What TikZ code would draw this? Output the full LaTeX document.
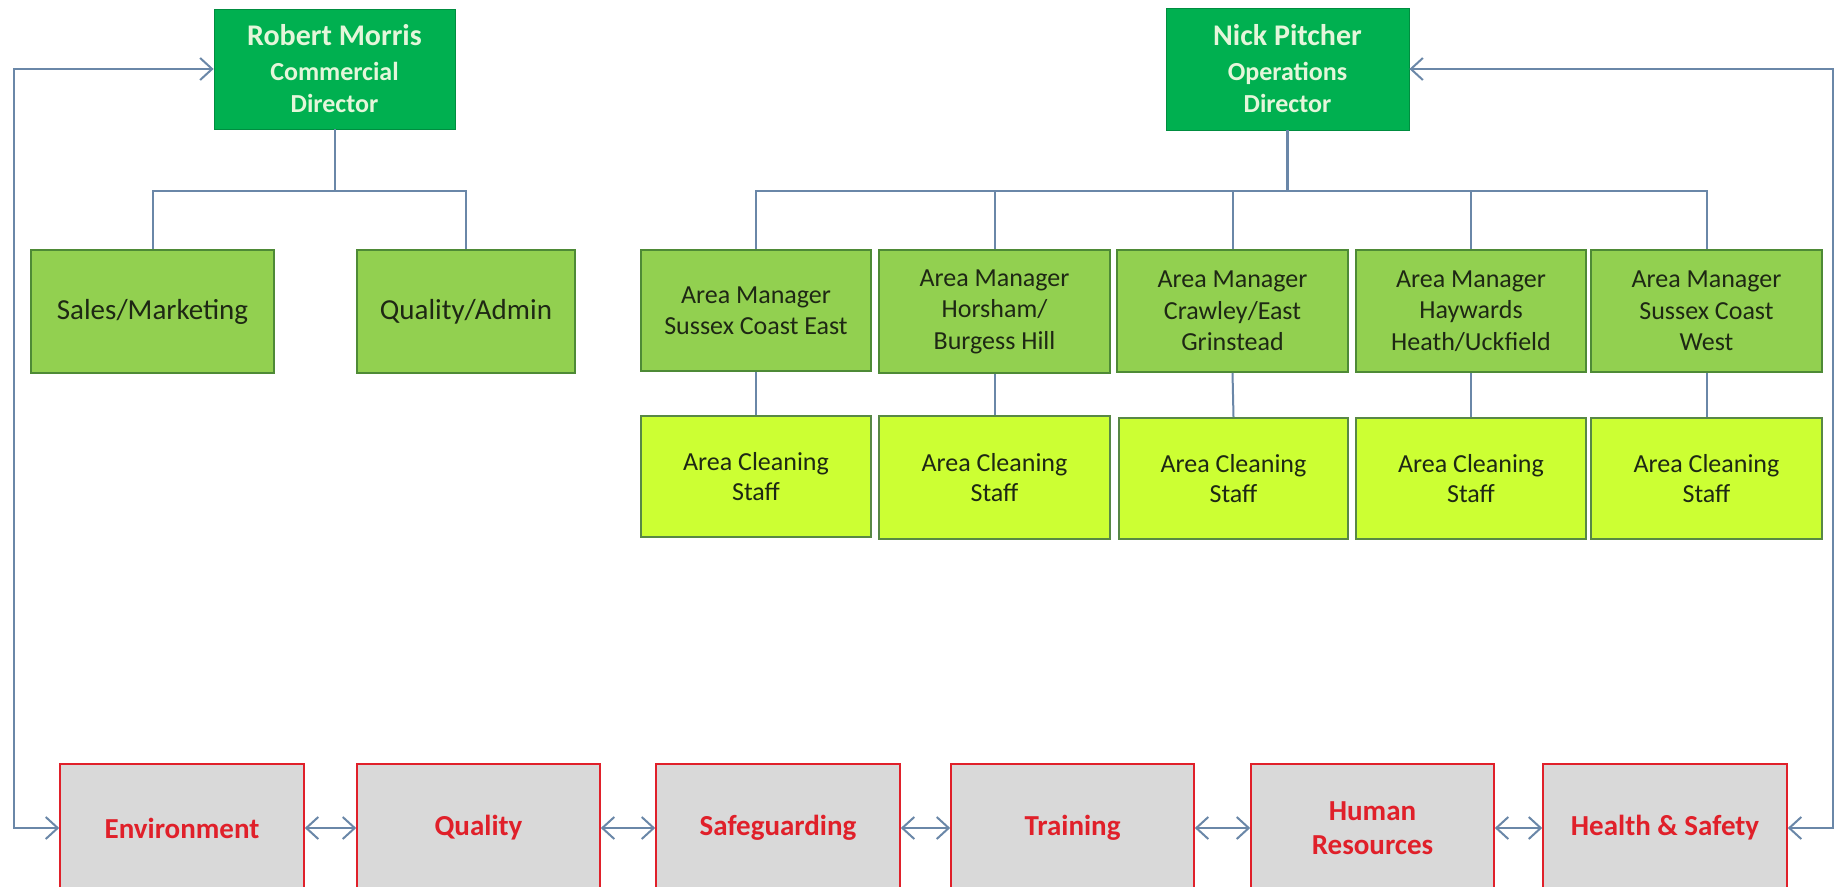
\documentclass[tikz,border=0pt]{standalone}
\usepackage{fontspec}
\setmainfont{Carlito}
\usetikzlibrary{arrows.meta}
\definecolor{dkgreen}{HTML}{00B050}
\definecolor{mdgreen}{HTML}{92D050}
\definecolor{ylgreen}{HTML}{CCFF33}
\definecolor{boxgray}{HTML}{D9D9D9}
\definecolor{redtxt}{HTML}{E0202A}
\definecolor{conncol}{HTML}{6A87A8}
\definecolor{lighttxt}{HTML}{E4F6DA}
\definecolor{darktxt}{HTML}{1E2814}
\definecolor{grborder}{HTML}{4E8A36}
\tikzset{
  base/.style={rectangle, inner sep=0pt, align=center},
  dkbox/.style={base, fill=dkgreen, draw=dkgreen!80!black, line width=0.8pt, text=lighttxt,
    font=\fontsize{26}{32}\selectfont\bfseries},
  mdbox/.style={base, fill=mdgreen, draw=grborder, line width=1.6pt, text=darktxt,
    font=\fontsize{26}{31.5}\selectfont},
  bigmd/.style={mdbox, font=\fontsize{29}{34}\selectfont},
  ylbox/.style={base, fill=ylgreen, draw=grborder!80!gray, line width=1.6pt, text=darktxt,
    font=\fontsize{26}{30}\selectfont},
  rdbox/.style={base, fill=boxgray, draw=redtxt, line width=1.6pt, text=redtxt,
    font=\fontsize{29}{34}\selectfont\bfseries, minimum height=128pt},
  conn/.style={draw=conncol, line width=2pt},
  tip/.style={-{Straight Barb[length=12pt,width=22pt]}},
  tips/.style={{Straight Barb[length=12pt,width=22pt]}-{Straight Barb[length=12pt,width=22pt]}}
}
\begin{document}
\begin{tikzpicture}[x=1pt,y=-1pt]
\useasboundingbox (0,0) rectangle (1836,886);
\fill[white] (0,0) rectangle (1836,886);
\clip (0,0) rectangle (1836,886);

% directors
\node[dkbox, minimum width=241pt, minimum height=120pt] (rm) at (334.5,69)
  {{\fontsize{30}{36}\selectfont Robert Morris}\\[3pt]Commercial\\Director};
\node[dkbox, minimum width=243pt, minimum height=122pt] (np) at (1287.5,69)
  {{\fontsize{30}{36}\selectfont Nick Pitcher}\\[3pt]Operations\\Director};

% commercial side
\node[bigmd, minimum width=243pt, minimum height=123pt] (sm) at (152.5,311.5) {Sales/Marketing};
\node[bigmd, minimum width=218pt, minimum height=123pt] (qa) at (466,311.5) {Quality/Admin};

% area managers
\node[mdbox, minimum width=230pt, minimum height=121pt] (am1) at (756,310.5) {Area Manager\\Sussex Coast East};
\node[mdbox, minimum width=231pt, minimum height=123pt] (am2) at (994.5,311.5) {Area Manager\\Horsham/\\Burgess Hill};
\node[mdbox, minimum width=231pt, minimum height=122pt] (am3) at (1232.5,311) {Area Manager\\Crawley/East\\Grinstead};
\node[mdbox, minimum width=230pt, minimum height=122pt] (am4) at (1471,311) {Area Manager\\Haywards\\Heath/Uckfield};
\node[mdbox, minimum width=231pt, minimum height=122pt] (am5) at (1706.5,311) {Area Manager\\Sussex Coast\\West};

% cleaning staff
\node[ylbox, minimum width=230pt, minimum height=121pt] (cs1) at (756,476.5) {Area Cleaning\\Staff};
\node[ylbox, minimum width=231pt, minimum height=123pt] (cs2) at (994.5,477.5) {Area Cleaning\\Staff};
\node[ylbox, minimum width=229pt, minimum height=121pt] (cs3) at (1233.5,478.5) {Area Cleaning\\Staff};
\node[ylbox, minimum width=230pt, minimum height=121pt] (cs4) at (1471,478.5) {Area Cleaning\\Staff};
\node[ylbox, minimum width=231pt, minimum height=121pt] (cs5) at (1706.5,478.5) {Area Cleaning\\Staff};

% bottom row
\node[rdbox, minimum width=244pt] (env) at (182,828) {Environment};
\node[rdbox, minimum width=243pt] (qual) at (478.5,828) {Quality};
\node[rdbox, minimum width=244pt] (safe) at (778,828) {Safeguarding};
\node[rdbox, minimum width=243pt] (train) at (1072.5,828) {Training};
\node[rdbox, minimum width=243pt] (hr) at (1372.5,828) {Human\\Resources};
\node[rdbox, minimum width=244pt] (hs) at (1665,828) {Health \& Safety};

% tree connectors
\coordinate (rmj) at (334.5,191);
\coordinate (npj) at (1287.5,191);
\draw[conn] (rm.south) -- (rmj);
\draw[conn] (sm.north) |- (rmj) -| (qa.north);
\draw[conn, line width=3pt] (np.south) -- (npj);
\draw[conn] (am1.north) |- (npj) -| (am5.north);
\draw[conn] (am2.north) -- (am2.north |- npj);
\draw[conn] (am3.north) -- (am3.north |- npj);
\draw[conn] (am4.north) -- (am4.north |- npj);
\foreach \i in {1,...,5} {\draw[conn] (am\i.south) -- (cs\i.north);}

% feedback loops
\coordinate (lt) at (14,69);
\coordinate (lb) at (14,828);
\coordinate (rt) at (1833,69);
\coordinate (rb) at (1833,828);
\draw[conn, tips] (rm.west) -- (lt) -- (lb) -- (env.west);
\draw[conn, tips] (np.east) -- (rt) -- (rb) -- (hs.east);

% bottom double arrows
\draw[conn, tips] (env.east) -- (qual.west);
\draw[conn, tips] (qual.east) -- (safe.west);
\draw[conn, tips] (safe.east) -- (train.west);
\draw[conn, tips] (train.east) -- (hr.west);
\draw[conn, tips] (hr.east) -- (hs.west);
\end{tikzpicture}
\end{document}
